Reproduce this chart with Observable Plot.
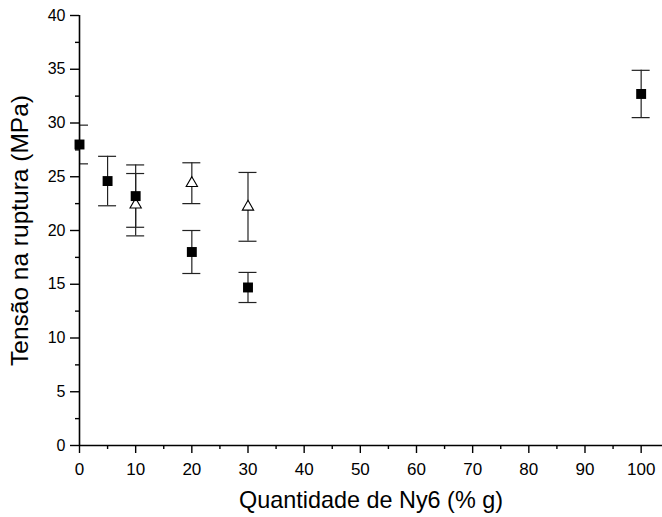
<!DOCTYPE html>
<html>
<head>
<meta charset="utf-8">
<script src="https://cdn.jsdelivr.net/npm/d3@7"></script>
<script src="https://cdn.jsdelivr.net/npm/@observablehq/plot@0.6"></script>
<style>
  html, body { margin: 0; padding: 0; background: #fff; }
</style>
</head>
<body>
<div id="chart"></div>
<script>
// Series 1 (filled squares)
const xSquare = [0, 5, 10, 20, 30, 100];
const ySquare = [28.0, 24.6, 23.2, 18.0, 14.7, 32.7];
const errSquare = [1.8, 2.3, 2.9, 2.0, 1.4, 2.2];
// Series 2 (open triangles)
const xTriangle = [10, 20, 30];
const yTriangle = [22.4, 24.4, 22.2];
const errTriangle = [2.9, 1.9, 3.2];
// Axis ticks
const xTicks = [0, 10, 20, 30, 40, 50, 60, 70, 80, 90, 100];
const xMinor = [5, 15, 25, 35, 45, 55, 65, 75, 85, 95];
const yTicks = [0, 5, 10, 15, 20, 25, 30, 35, 40];
const yMinor = [2.5, 7.5, 12.5, 17.5, 22.5, 27.5, 32.5, 37.5];
const xLabel = "Quantidade de Ny6 (% g)";
const yLabel = "Tensão na ruptura (MPa)";

const squares = xSquare.map((x, i) => ({x, y: ySquare[i], lo: ySquare[i] - errSquare[i], hi: ySquare[i] + errSquare[i]}));
const triangles = xTriangle.map((x, i) => ({x, y: yTriangle[i], lo: yTriangle[i] - errTriangle[i], hi: yTriangle[i] + errTriangle[i]}));
const all = [...triangles, ...squares];
const caps = all.flatMap(d => [{x: d.x, y: d.lo}, {x: d.x, y: d.hi}]);

const chart = Plot.plot({
  width: 662,
  height: 517,
  marginLeft: 79,
  marginRight: 0,
  marginTop: 15,
  marginBottom: 72,
  style: {fontFamily: "'Liberation Sans', Arial, sans-serif", fontSize: "16px", color: "#000", background: "#fff"},
  x: {domain: [0, 103.8], label: null},
  y: {domain: [0, 40], label: null},
  marks: [
    // error bars
    Plot.ruleX(all, {x: "x", y1: "lo", y2: "hi", stroke: "#222", strokeWidth: 1.2, clip: true}),
    Plot.ruleY(caps, {y: "y", x1: "x", x2: "x", insetLeft: -9, insetRight: -9, stroke: "#222", strokeWidth: 1.2, clip: true}),
    // markers
    Plot.dot(triangles, {x: "x", y: "y", symbol: "triangle", r: 4.2, fill: "#fff", stroke: "#000", strokeWidth: 1.1}),
    Plot.dot(squares, {x: "x", y: "y", symbol: "square", r: 5.6, fill: "#000", stroke: "none"}),
    // axes
    Plot.axisX({ticks: xTicks, tickSize: 8, tickPadding: 9, fontSize: 17, strokeWidth: 1.4, label: null}),
    Plot.axisX({ticks: xMinor, tickSize: 4, tickFormat: () => "", strokeWidth: 1.4, label: null}),
    Plot.axisY({ticks: yTicks, tickSize: 9, tickPadding: 5, fontSize: 16, strokeWidth: 1.4, label: null}),
    Plot.axisY({ticks: yMinor, tickSize: 4, tickFormat: () => "", strokeWidth: 1.4, label: null}),
    Plot.ruleY([0], {stroke: "#000", strokeWidth: 1.6}),
    Plot.ruleX([0], {stroke: "#000", strokeWidth: 1.6}),
    Plot.text([xLabel], {frameAnchor: "bottom", dy: 54.5, lineAnchor: "middle", textAnchor: "middle", fontSize: 23.4, text: d => d, fill: "#000"}),
    Plot.text([yLabel], {frameAnchor: "left", dx: -59, rotate: -90, lineAnchor: "middle", textAnchor: "middle", fontSize: 24.5, text: d => d, fill: "#000"})
  ]
});
document.getElementById("chart").appendChild(chart);
</script>
</body>
</html>
